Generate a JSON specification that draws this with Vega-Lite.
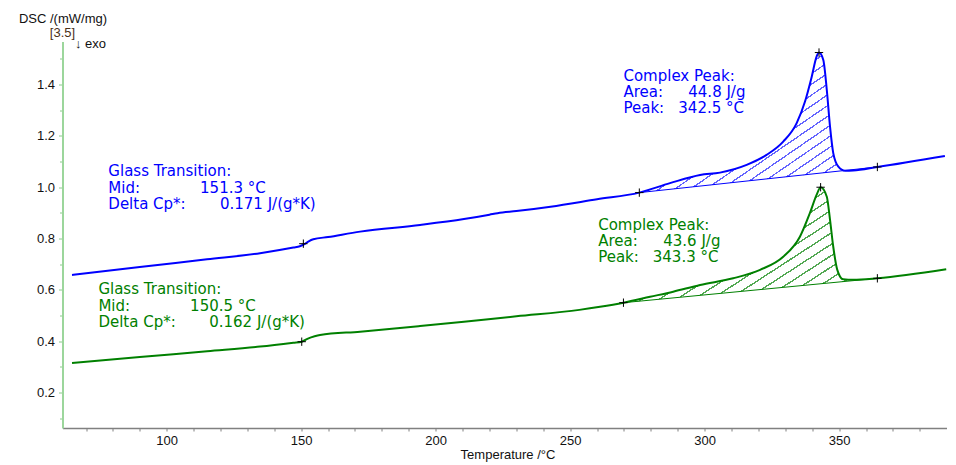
{
  "$schema": "https://vega.github.io/schema/vega-lite/v6.json",
  "width": 884,
  "height": 386.5,
  "autosize": {"type": "none"},
  "padding": {"left": 62.5, "top": 41.5, "right": 9.5, "bottom": 37},
  "background": "white",
  "config": {"view": {"stroke": null}, "font": "Liberation Sans"},
  "datasets": {
    "curves": [
      {"series": "upper", "T": 64.8, "V": 0.658},
      {"series": "upper", "T": 90, "V": 0.689},
      {"series": "upper", "T": 115, "V": 0.719},
      {"series": "upper", "T": 134.7, "V": 0.743},
      {"series": "upper", "T": 147.1, "V": 0.765},
      {"series": "upper", "T": 149.5, "V": 0.770},
      {"series": "upper", "T": 151.2, "V": 0.778},
      {"series": "upper", "T": 152.8, "V": 0.789},
      {"series": "upper", "T": 154.5, "V": 0.797},
      {"series": "upper", "T": 160, "V": 0.806},
      {"series": "upper", "T": 171.9, "V": 0.827},
      {"series": "upper", "T": 194.2, "V": 0.853},
      {"series": "upper", "T": 210.5, "V": 0.876},
      {"series": "upper", "T": 220, "V": 0.893},
      {"series": "upper", "T": 223, "V": 0.899},
      {"series": "upper", "T": 230, "V": 0.907},
      {"series": "upper", "T": 242.7, "V": 0.924},
      {"series": "upper", "T": 260, "V": 0.953},
      {"series": "upper", "T": 275.7, "V": 0.979},
      {"series": "upper", "T": 287.1, "V": 1.016},
      {"series": "upper", "T": 298.3, "V": 1.048},
      {"series": "upper", "T": 305.7, "V": 1.057},
      {"series": "upper", "T": 315.6, "V": 1.087},
      {"series": "upper", "T": 323.0, "V": 1.126},
      {"series": "upper", "T": 329.2, "V": 1.178},
      {"series": "upper", "T": 334.2, "V": 1.250},
      {"series": "upper", "T": 337.3, "V": 1.334},
      {"series": "upper", "T": 339.8, "V": 1.431},
      {"series": "upper", "T": 341.6, "V": 1.509},
      {"series": "upper", "T": 342.5, "V": 1.525},
      {"series": "upper", "T": 344.1, "V": 1.496},
      {"series": "upper", "T": 345.4, "V": 1.379},
      {"series": "upper", "T": 346.6, "V": 1.236},
      {"series": "upper", "T": 347.8, "V": 1.133},
      {"series": "upper", "T": 349.7, "V": 1.080},
      {"series": "upper", "T": 352.2, "V": 1.064},
      {"series": "upper", "T": 355.2, "V": 1.065},
      {"series": "upper", "T": 364.2, "V": 1.079},
      {"series": "upper", "T": 389.3, "V": 1.122},
      {"series": "lower", "T": 64.8, "V": 0.315},
      {"series": "lower", "T": 90, "V": 0.338},
      {"series": "lower", "T": 115, "V": 0.361},
      {"series": "lower", "T": 134.7, "V": 0.379},
      {"series": "lower", "T": 147.1, "V": 0.394},
      {"series": "lower", "T": 150.2, "V": 0.398},
      {"series": "lower", "T": 152.5, "V": 0.410},
      {"series": "lower", "T": 155, "V": 0.419},
      {"series": "lower", "T": 157, "V": 0.424},
      {"series": "lower", "T": 171.9, "V": 0.437},
      {"series": "lower", "T": 194.2, "V": 0.459},
      {"series": "lower", "T": 210.5, "V": 0.476},
      {"series": "lower", "T": 230, "V": 0.497},
      {"series": "lower", "T": 253.4, "V": 0.522},
      {"series": "lower", "T": 261.1, "V": 0.534},
      {"series": "lower", "T": 269.8, "V": 0.550},
      {"series": "lower", "T": 279.7, "V": 0.573},
      {"series": "lower", "T": 288.3, "V": 0.593},
      {"series": "lower", "T": 298.3, "V": 0.619},
      {"series": "lower", "T": 310.6, "V": 0.645},
      {"series": "lower", "T": 320.6, "V": 0.678},
      {"series": "lower", "T": 329.2, "V": 0.729},
      {"series": "lower", "T": 335.4, "V": 0.807},
      {"series": "lower", "T": 339.1, "V": 0.899},
      {"series": "lower", "T": 341.6, "V": 0.970},
      {"series": "lower", "T": 343.1, "V": 1.000},
      {"series": "lower", "T": 345.4, "V": 0.963},
      {"series": "lower", "T": 346.6, "V": 0.873},
      {"series": "lower", "T": 347.8, "V": 0.768},
      {"series": "lower", "T": 349.3, "V": 0.678},
      {"series": "lower", "T": 351.5, "V": 0.641},
      {"series": "lower", "T": 355.2, "V": 0.639},
      {"series": "lower", "T": 364.2, "V": 0.645},
      {"series": "lower", "T": 389.8, "V": 0.680}
    ],
    "peaks": [
      {"series": "upper", "T": 275.7, "V": 0.979, "base": 0.979},
      {"series": "upper", "T": 287.1, "V": 1.016, "base": 0.992},
      {"series": "upper", "T": 298.3, "V": 1.048, "base": 1.004},
      {"series": "upper", "T": 305.7, "V": 1.057, "base": 1.013},
      {"series": "upper", "T": 315.6, "V": 1.087, "base": 1.024},
      {"series": "upper", "T": 323.0, "V": 1.126, "base": 1.032},
      {"series": "upper", "T": 329.2, "V": 1.178, "base": 1.039},
      {"series": "upper", "T": 334.2, "V": 1.250, "base": 1.045},
      {"series": "upper", "T": 337.3, "V": 1.334, "base": 1.048},
      {"series": "upper", "T": 339.8, "V": 1.431, "base": 1.051},
      {"series": "upper", "T": 341.6, "V": 1.509, "base": 1.053},
      {"series": "upper", "T": 342.5, "V": 1.525, "base": 1.054},
      {"series": "upper", "T": 344.1, "V": 1.496, "base": 1.056},
      {"series": "upper", "T": 345.4, "V": 1.379, "base": 1.058},
      {"series": "upper", "T": 346.6, "V": 1.236, "base": 1.059},
      {"series": "upper", "T": 347.8, "V": 1.133, "base": 1.060},
      {"series": "upper", "T": 349.7, "V": 1.080, "base": 1.062},
      {"series": "upper", "T": 351.5, "V": 1.064, "base": 1.064},
      {"series": "lower", "T": 269.8, "V": 0.550, "base": 0.550},
      {"series": "lower", "T": 279.7, "V": 0.573, "base": 0.560},
      {"series": "lower", "T": 288.3, "V": 0.593, "base": 0.569},
      {"series": "lower", "T": 298.3, "V": 0.619, "base": 0.579},
      {"series": "lower", "T": 310.6, "V": 0.645, "base": 0.591},
      {"series": "lower", "T": 320.6, "V": 0.678, "base": 0.601},
      {"series": "lower", "T": 329.2, "V": 0.729, "base": 0.610},
      {"series": "lower", "T": 335.4, "V": 0.807, "base": 0.616},
      {"series": "lower", "T": 339.1, "V": 0.899, "base": 0.620},
      {"series": "lower", "T": 341.6, "V": 0.970, "base": 0.622},
      {"series": "lower", "T": 343.1, "V": 1.000, "base": 0.624},
      {"series": "lower", "T": 345.4, "V": 0.963, "base": 0.626},
      {"series": "lower", "T": 346.6, "V": 0.873, "base": 0.627},
      {"series": "lower", "T": 347.8, "V": 0.768, "base": 0.628},
      {"series": "lower", "T": 349.3, "V": 0.678, "base": 0.630},
      {"series": "lower", "T": 351.5, "V": 0.641, "base": 0.632},
      {"series": "lower", "T": 355.2, "V": 0.639, "base": 0.636},
      {"series": "lower", "T": 364.2, "V": 0.645, "base": 0.645}
    ],
    "baselines": [
      {"series": "upper", "T": 275.7, "V": 0.979},
      {"series": "upper", "T": 364.2, "V": 1.079},
      {"series": "lower", "T": 269.8, "V": 0.550},
      {"series": "lower", "T": 364.2, "V": 0.645}
    ],
    "markers": [
      {"series": "upper", "T": 150.8, "V": 0.780},
      {"series": "upper", "T": 275.7, "V": 0.979},
      {"series": "upper", "T": 342.5, "V": 1.525},
      {"series": "upper", "T": 364.2, "V": 1.079},
      {"series": "lower", "T": 150.2, "V": 0.398},
      {"series": "lower", "T": 269.8, "V": 0.550},
      {"series": "lower", "T": 343.1, "V": 1.000},
      {"series": "lower", "T": 364.2, "V": 0.645}
    ],
    "notes": [
      {"series": "upper", "T": 78.3, "V": 1.042, "text": "Glass Transition:"},
      {"series": "upper", "T": 78.3, "V": 0.979, "text": "Mid:"},
      {"series": "upper", "T": 112.4, "V": 0.979, "text": "151.3 °C"},
      {"series": "upper", "T": 78.3, "V": 0.916, "text": "Delta Cp*:"},
      {"series": "upper", "T": 119.8, "V": 0.916, "text": "0.171 J/(g*K)"},
      {"series": "upper", "T": 269.8, "V": 1.415, "text": "Complex Peak:"},
      {"series": "upper", "T": 269.8, "V": 1.352, "text": "Area:"},
      {"series": "upper", "T": 293.9, "V": 1.352, "text": "44.8 J/g"},
      {"series": "upper", "T": 269.8, "V": 1.289, "text": "Peak:"},
      {"series": "upper", "T": 290.2, "V": 1.289, "text": "342.5 °C"},
      {"series": "lower", "T": 74.6, "V": 0.582, "text": "Glass Transition:"},
      {"series": "lower", "T": 74.6, "V": 0.519, "text": "Mid:"},
      {"series": "lower", "T": 108.7, "V": 0.519, "text": "150.5 °C"},
      {"series": "lower", "T": 74.6, "V": 0.456, "text": "Delta Cp*:"},
      {"series": "lower", "T": 115.8, "V": 0.456, "text": "0.162 J/(g*K)"},
      {"series": "lower", "T": 260.4, "V": 0.834, "text": "Complex Peak:"},
      {"series": "lower", "T": 260.4, "V": 0.771, "text": "Area:"},
      {"series": "lower", "T": 284.6, "V": 0.771, "text": "43.6 J/g"},
      {"series": "lower", "T": 260.4, "V": 0.708, "text": "Peak:"},
      {"series": "lower", "T": 280.7, "V": 0.708, "text": "343.3 °C"}
    ]
  },
  "encoding": {
    "x": {
      "field": "T",
      "type": "quantitative",
      "scale": {"domain": [61.26, 389.9], "nice": false, "zero": false},
      "axis": {
        "title": "Temperature /°C",
        "values": [70, 80, 90, 100, 110, 120, 130, 140, 150, 160, 170, 180, 190, 200, 210, 220, 230, 240, 250, 260, 270, 280, 290, 300, 310, 320, 330, 340, 350, 360, 370, 380],
        "format": "d",
        "labelExpr": "datum.value % 50 === 0 ? datum.label : ''",
        "grid": false,
        "domainColor": "#808080",
        "domainWidth": 1.5,
        "tickColor": "#808080",
        "tickSize": 3,
        "labelFont": "Liberation Sans",
        "labelFontSize": 13,
        "labelColor": "#111111",
        "labelPadding": 3,
        "labelFlush": false,
        "labelOverlap": false,
        "titleFont": "Liberation Sans",
        "titleFontSize": 13,
        "titleFontWeight": "normal",
        "titleColor": "#111111",
        "titleAlign": "center",
        "titleBaseline": "alphabetic",
        "titleX": 445,
        "titleY": 30
      }
    },
    "y": {
      "field": "V",
      "type": "quantitative",
      "scale": {"domain": [0.0616, 1.568], "nice": false, "zero": false},
      "axis": {
        "title": "DSC /(mW/mg)",
        "values": [0.1, 0.2, 0.3, 0.4, 0.5, 0.6, 0.7, 0.8, 0.9, 1.0, 1.1, 1.2, 1.3, 1.4, 1.5],
        "labelExpr": "round(datum.value * 10) % 2 === 0 ? format(datum.value, '.1f') : ''",
        "grid": false,
        "domainColor": "#9cd69c",
        "domainWidth": 2,
        "tickColor": "#8ccc8c",
        "tickSize": {"condition": {"test": "round(datum.value * 10) % 2 === 0", "value": 4}, "value": 3},
        "labelFont": "Liberation Sans",
        "labelFontSize": 13,
        "labelColor": "#111111",
        "labelPadding": 4,
        "labelOverlap": false,
        "titleFont": "Liberation Sans",
        "titleFontSize": 13,
        "titleFontWeight": "normal",
        "titleColor": "#111111",
        "titleAngle": 0,
        "titleAlign": "center",
        "titleBaseline": "alphabetic",
        "titleX": 0,
        "titleY": -18.8
      }
    }
  },
  "layer": [
    {
      "data": {"name": "peaks"},
      "transform": [{"filter": "datum.series === 'upper'"}],
      "mark": {
        "type": "area",
        "interpolate": "monotone",
        "fill": {
          "gradient": "linear", "x1": 0, "y1": 0, "x2": 1, "y2": 1,
          "stops": [
            {"offset": 0.0000, "color": "rgba(255,255,255,0)"}, {"offset": 0.0327, "color": "rgba(255,255,255,0)"}, {"offset": 0.0327, "color": "#6464ff"}, {"offset": 0.0385, "color": "#6464ff"},
            {"offset": 0.0385, "color": "rgba(255,255,255,0)"}, {"offset": 0.0712, "color": "rgba(255,255,255,0)"}, {"offset": 0.0712, "color": "#6464ff"}, {"offset": 0.0769, "color": "#6464ff"},
            {"offset": 0.0769, "color": "rgba(255,255,255,0)"}, {"offset": 0.1096, "color": "rgba(255,255,255,0)"}, {"offset": 0.1096, "color": "#6464ff"}, {"offset": 0.1154, "color": "#6464ff"},
            {"offset": 0.1154, "color": "rgba(255,255,255,0)"}, {"offset": 0.1481, "color": "rgba(255,255,255,0)"}, {"offset": 0.1481, "color": "#6464ff"}, {"offset": 0.1538, "color": "#6464ff"},
            {"offset": 0.1538, "color": "rgba(255,255,255,0)"}, {"offset": 0.1865, "color": "rgba(255,255,255,0)"}, {"offset": 0.1865, "color": "#6464ff"}, {"offset": 0.1923, "color": "#6464ff"},
            {"offset": 0.1923, "color": "rgba(255,255,255,0)"}, {"offset": 0.2250, "color": "rgba(255,255,255,0)"}, {"offset": 0.2250, "color": "#6464ff"}, {"offset": 0.2308, "color": "#6464ff"},
            {"offset": 0.2308, "color": "rgba(255,255,255,0)"}, {"offset": 0.2635, "color": "rgba(255,255,255,0)"}, {"offset": 0.2635, "color": "#6464ff"}, {"offset": 0.2692, "color": "#6464ff"},
            {"offset": 0.2692, "color": "rgba(255,255,255,0)"}, {"offset": 0.3019, "color": "rgba(255,255,255,0)"}, {"offset": 0.3019, "color": "#6464ff"}, {"offset": 0.3077, "color": "#6464ff"},
            {"offset": 0.3077, "color": "rgba(255,255,255,0)"}, {"offset": 0.3404, "color": "rgba(255,255,255,0)"}, {"offset": 0.3404, "color": "#6464ff"}, {"offset": 0.3462, "color": "#6464ff"},
            {"offset": 0.3462, "color": "rgba(255,255,255,0)"}, {"offset": 0.3789, "color": "rgba(255,255,255,0)"}, {"offset": 0.3789, "color": "#6464ff"}, {"offset": 0.3846, "color": "#6464ff"},
            {"offset": 0.3846, "color": "rgba(255,255,255,0)"}, {"offset": 0.4173, "color": "rgba(255,255,255,0)"}, {"offset": 0.4173, "color": "#6464ff"}, {"offset": 0.4231, "color": "#6464ff"},
            {"offset": 0.4231, "color": "rgba(255,255,255,0)"}, {"offset": 0.4558, "color": "rgba(255,255,255,0)"}, {"offset": 0.4558, "color": "#6464ff"}, {"offset": 0.4615, "color": "#6464ff"},
            {"offset": 0.4615, "color": "rgba(255,255,255,0)"}, {"offset": 0.4942, "color": "rgba(255,255,255,0)"}, {"offset": 0.4942, "color": "#6464ff"}, {"offset": 0.5000, "color": "#6464ff"},
            {"offset": 0.5000, "color": "rgba(255,255,255,0)"}, {"offset": 0.5327, "color": "rgba(255,255,255,0)"}, {"offset": 0.5327, "color": "#6464ff"}, {"offset": 0.5385, "color": "#6464ff"},
            {"offset": 0.5385, "color": "rgba(255,255,255,0)"}, {"offset": 0.5712, "color": "rgba(255,255,255,0)"}, {"offset": 0.5712, "color": "#6464ff"}, {"offset": 0.5769, "color": "#6464ff"},
            {"offset": 0.5769, "color": "rgba(255,255,255,0)"}, {"offset": 0.6096, "color": "rgba(255,255,255,0)"}, {"offset": 0.6096, "color": "#6464ff"}, {"offset": 0.6154, "color": "#6464ff"},
            {"offset": 0.6154, "color": "rgba(255,255,255,0)"}, {"offset": 0.6481, "color": "rgba(255,255,255,0)"}, {"offset": 0.6481, "color": "#6464ff"}, {"offset": 0.6538, "color": "#6464ff"},
            {"offset": 0.6538, "color": "rgba(255,255,255,0)"}, {"offset": 0.6865, "color": "rgba(255,255,255,0)"}, {"offset": 0.6865, "color": "#6464ff"}, {"offset": 0.6923, "color": "#6464ff"},
            {"offset": 0.6923, "color": "rgba(255,255,255,0)"}, {"offset": 0.7250, "color": "rgba(255,255,255,0)"}, {"offset": 0.7250, "color": "#6464ff"}, {"offset": 0.7308, "color": "#6464ff"},
            {"offset": 0.7308, "color": "rgba(255,255,255,0)"}, {"offset": 0.7635, "color": "rgba(255,255,255,0)"}, {"offset": 0.7635, "color": "#6464ff"}, {"offset": 0.7692, "color": "#6464ff"},
            {"offset": 0.7692, "color": "rgba(255,255,255,0)"}, {"offset": 0.8019, "color": "rgba(255,255,255,0)"}, {"offset": 0.8019, "color": "#6464ff"}, {"offset": 0.8077, "color": "#6464ff"},
            {"offset": 0.8077, "color": "rgba(255,255,255,0)"}, {"offset": 0.8404, "color": "rgba(255,255,255,0)"}, {"offset": 0.8404, "color": "#6464ff"}, {"offset": 0.8462, "color": "#6464ff"},
            {"offset": 0.8462, "color": "rgba(255,255,255,0)"}, {"offset": 0.8788, "color": "rgba(255,255,255,0)"}, {"offset": 0.8788, "color": "#6464ff"}, {"offset": 0.8846, "color": "#6464ff"},
            {"offset": 0.8846, "color": "rgba(255,255,255,0)"}, {"offset": 0.9173, "color": "rgba(255,255,255,0)"}, {"offset": 0.9173, "color": "#6464ff"}, {"offset": 0.9231, "color": "#6464ff"},
            {"offset": 0.9231, "color": "rgba(255,255,255,0)"}, {"offset": 0.9558, "color": "rgba(255,255,255,0)"}, {"offset": 0.9558, "color": "#6464ff"}, {"offset": 0.9615, "color": "#6464ff"},
            {"offset": 0.9615, "color": "rgba(255,255,255,0)"}, {"offset": 0.9942, "color": "rgba(255,255,255,0)"}, {"offset": 0.9942, "color": "#6464ff"}, {"offset": 1.0000, "color": "#6464ff"}
          ]
        }
      },
      "encoding": {"y2": {"field": "base"}}
    },
    {
      "data": {"name": "peaks"},
      "transform": [{"filter": "datum.series === 'lower'"}],
      "mark": {
        "type": "area",
        "interpolate": "monotone",
        "fill": {
          "gradient": "linear", "x1": 0, "y1": 0, "x2": 1.2, "y2": 0.84,
          "stops": [
            {"offset": 0.0000, "color": "rgba(255,255,255,0)"}, {"offset": 0.0327, "color": "rgba(255,255,255,0)"}, {"offset": 0.0327, "color": "#52a852"}, {"offset": 0.0385, "color": "#52a852"},
            {"offset": 0.0385, "color": "rgba(255,255,255,0)"}, {"offset": 0.0712, "color": "rgba(255,255,255,0)"}, {"offset": 0.0712, "color": "#52a852"}, {"offset": 0.0769, "color": "#52a852"},
            {"offset": 0.0769, "color": "rgba(255,255,255,0)"}, {"offset": 0.1096, "color": "rgba(255,255,255,0)"}, {"offset": 0.1096, "color": "#52a852"}, {"offset": 0.1154, "color": "#52a852"},
            {"offset": 0.1154, "color": "rgba(255,255,255,0)"}, {"offset": 0.1481, "color": "rgba(255,255,255,0)"}, {"offset": 0.1481, "color": "#52a852"}, {"offset": 0.1538, "color": "#52a852"},
            {"offset": 0.1538, "color": "rgba(255,255,255,0)"}, {"offset": 0.1865, "color": "rgba(255,255,255,0)"}, {"offset": 0.1865, "color": "#52a852"}, {"offset": 0.1923, "color": "#52a852"},
            {"offset": 0.1923, "color": "rgba(255,255,255,0)"}, {"offset": 0.2250, "color": "rgba(255,255,255,0)"}, {"offset": 0.2250, "color": "#52a852"}, {"offset": 0.2308, "color": "#52a852"},
            {"offset": 0.2308, "color": "rgba(255,255,255,0)"}, {"offset": 0.2635, "color": "rgba(255,255,255,0)"}, {"offset": 0.2635, "color": "#52a852"}, {"offset": 0.2692, "color": "#52a852"},
            {"offset": 0.2692, "color": "rgba(255,255,255,0)"}, {"offset": 0.3019, "color": "rgba(255,255,255,0)"}, {"offset": 0.3019, "color": "#52a852"}, {"offset": 0.3077, "color": "#52a852"},
            {"offset": 0.3077, "color": "rgba(255,255,255,0)"}, {"offset": 0.3404, "color": "rgba(255,255,255,0)"}, {"offset": 0.3404, "color": "#52a852"}, {"offset": 0.3462, "color": "#52a852"},
            {"offset": 0.3462, "color": "rgba(255,255,255,0)"}, {"offset": 0.3789, "color": "rgba(255,255,255,0)"}, {"offset": 0.3789, "color": "#52a852"}, {"offset": 0.3846, "color": "#52a852"},
            {"offset": 0.3846, "color": "rgba(255,255,255,0)"}, {"offset": 0.4173, "color": "rgba(255,255,255,0)"}, {"offset": 0.4173, "color": "#52a852"}, {"offset": 0.4231, "color": "#52a852"},
            {"offset": 0.4231, "color": "rgba(255,255,255,0)"}, {"offset": 0.4558, "color": "rgba(255,255,255,0)"}, {"offset": 0.4558, "color": "#52a852"}, {"offset": 0.4615, "color": "#52a852"},
            {"offset": 0.4615, "color": "rgba(255,255,255,0)"}, {"offset": 0.4942, "color": "rgba(255,255,255,0)"}, {"offset": 0.4942, "color": "#52a852"}, {"offset": 0.5000, "color": "#52a852"},
            {"offset": 0.5000, "color": "rgba(255,255,255,0)"}, {"offset": 0.5327, "color": "rgba(255,255,255,0)"}, {"offset": 0.5327, "color": "#52a852"}, {"offset": 0.5385, "color": "#52a852"},
            {"offset": 0.5385, "color": "rgba(255,255,255,0)"}, {"offset": 0.5712, "color": "rgba(255,255,255,0)"}, {"offset": 0.5712, "color": "#52a852"}, {"offset": 0.5769, "color": "#52a852"},
            {"offset": 0.5769, "color": "rgba(255,255,255,0)"}, {"offset": 0.6096, "color": "rgba(255,255,255,0)"}, {"offset": 0.6096, "color": "#52a852"}, {"offset": 0.6154, "color": "#52a852"},
            {"offset": 0.6154, "color": "rgba(255,255,255,0)"}, {"offset": 0.6481, "color": "rgba(255,255,255,0)"}, {"offset": 0.6481, "color": "#52a852"}, {"offset": 0.6538, "color": "#52a852"},
            {"offset": 0.6538, "color": "rgba(255,255,255,0)"}, {"offset": 0.6865, "color": "rgba(255,255,255,0)"}, {"offset": 0.6865, "color": "#52a852"}, {"offset": 0.6923, "color": "#52a852"},
            {"offset": 0.6923, "color": "rgba(255,255,255,0)"}, {"offset": 0.7250, "color": "rgba(255,255,255,0)"}, {"offset": 0.7250, "color": "#52a852"}, {"offset": 0.7308, "color": "#52a852"},
            {"offset": 0.7308, "color": "rgba(255,255,255,0)"}, {"offset": 0.7635, "color": "rgba(255,255,255,0)"}, {"offset": 0.7635, "color": "#52a852"}, {"offset": 0.7692, "color": "#52a852"},
            {"offset": 0.7692, "color": "rgba(255,255,255,0)"}, {"offset": 0.8019, "color": "rgba(255,255,255,0)"}, {"offset": 0.8019, "color": "#52a852"}, {"offset": 0.8077, "color": "#52a852"},
            {"offset": 0.8077, "color": "rgba(255,255,255,0)"}, {"offset": 0.8404, "color": "rgba(255,255,255,0)"}, {"offset": 0.8404, "color": "#52a852"}, {"offset": 0.8462, "color": "#52a852"},
            {"offset": 0.8462, "color": "rgba(255,255,255,0)"}, {"offset": 0.8788, "color": "rgba(255,255,255,0)"}, {"offset": 0.8788, "color": "#52a852"}, {"offset": 0.8846, "color": "#52a852"},
            {"offset": 0.8846, "color": "rgba(255,255,255,0)"}, {"offset": 0.9173, "color": "rgba(255,255,255,0)"}, {"offset": 0.9173, "color": "#52a852"}, {"offset": 0.9231, "color": "#52a852"},
            {"offset": 0.9231, "color": "rgba(255,255,255,0)"}, {"offset": 0.9558, "color": "rgba(255,255,255,0)"}, {"offset": 0.9558, "color": "#52a852"}, {"offset": 0.9615, "color": "#52a852"},
            {"offset": 0.9615, "color": "rgba(255,255,255,0)"}, {"offset": 0.9942, "color": "rgba(255,255,255,0)"}, {"offset": 0.9942, "color": "#52a852"}, {"offset": 1.0000, "color": "#52a852"}
          ]
        }
      },
      "encoding": {"y2": {"field": "base"}}
    },
    {
      "data": {"name": "baselines"},
      "mark": {"type": "line", "strokeWidth": 1},
      "encoding": {
        "color": {"field": "series", "type": "nominal", "scale": {"domain": ["upper", "lower"], "range": ["#0000ff", "#008000"]}, "legend": null}
      }
    },
    {
      "data": {"name": "curves"},
      "mark": {"type": "line", "strokeWidth": 2, "interpolate": "monotone"},
      "encoding": {
        "color": {"field": "series", "type": "nominal", "legend": null}
      }
    },
    {
      "data": {"name": "markers"},
      "mark": {"type": "point", "shape": "M-1,0L1,0M0,-1L0,1", "filled": false, "stroke": "#000000", "strokeWidth": 1, "size": 70, "opacity": 1},
      "encoding": {"detail": {"field": "series", "type": "nominal"}}
    },
    {
      "data": {"name": "notes"},
      "mark": {"type": "text", "align": "left", "baseline": "alphabetic", "font": "DejaVu Sans", "fontSize": 15},
      "encoding": {
        "text": {"field": "text", "type": "nominal"},
        "color": {"field": "series", "type": "nominal", "legend": null}
      }
    },
    {
      "data": {"values": [{"T": 61.26, "V": 1.587, "text": "[3.5]"}]},
      "mark": {"type": "text", "align": "center", "baseline": "alphabetic", "font": "Liberation Sans", "fontSize": 13, "color": "#4a3018"},
      "encoding": {"text": {"field": "text", "type": "nominal"}}
    },
    {
      "data": {"values": [{"T": 65.9, "V": 1.542, "text": "↓ exo"}]},
      "mark": {"type": "text", "align": "left", "baseline": "alphabetic", "font": "Liberation Sans, DejaVu Sans", "fontSize": 13, "color": "#111111"},
      "encoding": {"text": {"field": "text", "type": "nominal"}}
    }
  ]
}
